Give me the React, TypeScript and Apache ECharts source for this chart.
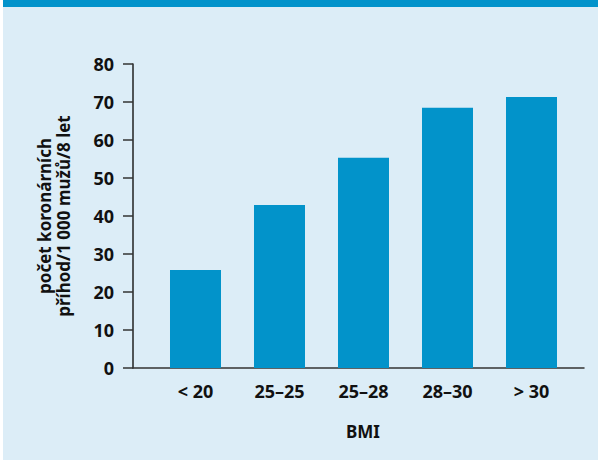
import React, { useEffect, useRef } from "react";
import * as echarts from "echarts";

const categories = ["< 20", "25–25", "25–28", "28–30", "> 30"];
const values = [25.8, 42.9, 55.3, 68.5, 71.3];
const yTitle = "počet koronárních\npříhod/1 000 mužů/8 let";
const xTitle = "BMI";

const FONT = "'Noto Sans', 'Open Sans', sans-serif";

export default function App() {
  const ref = useRef<HTMLDivElement>(null);
  useEffect(() => {
    document.body.style.margin = "0";
    const chart = echarts.init(ref.current!, undefined, { renderer: "svg" });
    chart.setOption({
      animation: false,
      backgroundColor: "#ffffff",
      graphic: [
        { type: "rect", left: 3, top: 0, shape: { width: 595, height: 460 }, style: { fill: "#DCEDF7" }, z: -10 },
        { type: "rect", left: 3, top: 0, shape: { width: 595, height: 7 }, style: { fill: "#0293CB" }, z: -9 },
      ],
      grid: { left: 133, right: 14, top: 64, bottom: 92 },
      xAxis: {
        type: "value",
        min: -0.744,
        max: 4.625,
        name: xTitle,
        nameLocation: "middle",
        nameGap: 55,
        nameMoveOverlap: false,
        nameTextStyle: { fontFamily: FONT, fontWeight: "bold", fontSize: 17, color: "#111", padding: [0, 0, 0, 9] },
        axisLine: { show: true, onZero: false, lineStyle: { color: "#333", width: 1.5 } },
        axisTick: { show: false },
        splitLine: { show: false },
        axisLabel: {
          customValues: categories.map((_, i) => i),
          formatter: (v: number) => categories[Math.round(v)] ?? "",
          margin: 14,
          fontFamily: FONT,
          fontWeight: "bold",
          fontSize: 18,
          color: "#111",
        },
      },
      yAxis: {
        type: "value",
        min: 0,
        max: 80,
        interval: 10,
        name: yTitle,
        nameLocation: "middle",
        nameRotate: 90,
        nameGap: 60,
        nameMoveOverlap: false,
        nameTextStyle: { fontFamily: FONT, fontWeight: "bold", fontSize: 17, color: "#111", lineHeight: 19 },
        axisLine: { show: true, onZero: false, lineStyle: { color: "#222", width: 1.5 } },
        axisTick: { show: true, inside: false, length: 10, lineStyle: { color: "#333", width: 1.5 } },
        splitLine: { show: false },
        axisLabel: {
          margin: 19,
          fontFamily: FONT,
          fontWeight: "bold",
          fontSize: 18,
          color: "#111",
        },
      },
      series: [
        {
          type: "bar",
          barWidth: 51,
          data: values.map((v, i) => [i, v]),
          itemStyle: { color: "#0293CA" },
        },
      ],
    });
    return () => chart.dispose();
  }, []);
  return <div ref={ref} style={{ width: 598, height: 460, position: "absolute", left: 0, top: 0 }} />;
}
